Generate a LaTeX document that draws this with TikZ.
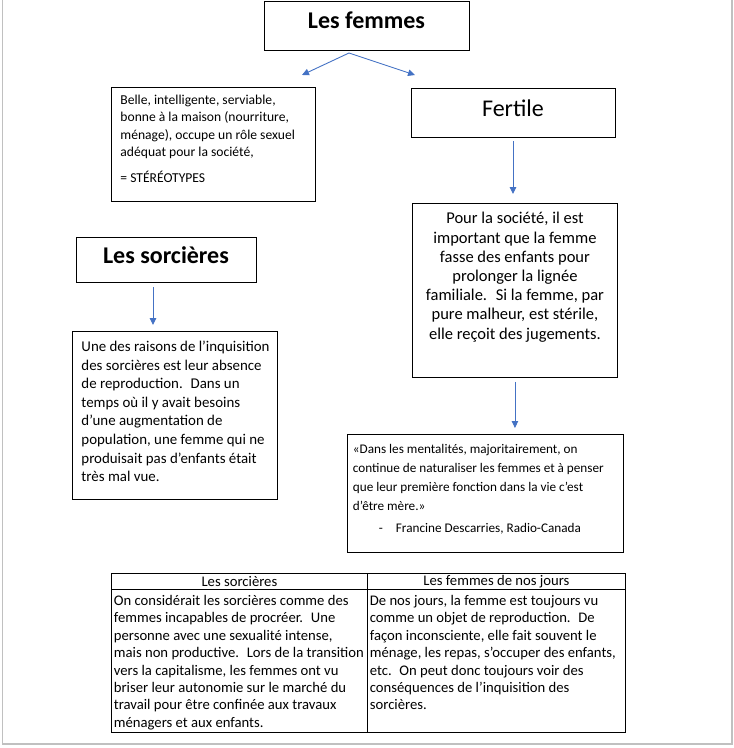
\documentclass[tikz,border=0pt]{standalone}
\usepackage{fontspec}
\setmainfont{Carlito}
\usepackage{tikz}
\usetikzlibrary{arrows.meta,positioning}
\definecolor{cArrow}{RGB}{68,114,196}
\definecolor{cEdge}{RGB}{192,192,192}
% #1 largeur, #2 hauteur, #3 retrait gauche, #4 texte
\newcommand{\boxpar}[4]{\begin{minipage}[c][#2][t]{#1}\raggedright\leftskip=#3\relax #4\end{minipage}}
\newcommand{\lift}[2]{\raisebox{#1}[\height][\depth]{#2}}
\tikzset{
  basebox/.style={rectangle,draw=black,line width=0.9pt,inner sep=0pt},
  titlenode/.style={basebox,font=\fontsize{24}{28}\selectfont\bfseries},
  fertnode/.style={basebox,font=\fontsize{24}{28}\selectfont},
  txtbox/.style={basebox,anchor=north west},
  cellnode/.style={basebox,anchor=north west,line width=0.8pt,
                   font=\fontsize{14.67}{17.4}\selectfont},
  arr/.style={-{Triangle[length=7pt,width=6.5pt]},line width=0.9pt,color=cArrow},
  pageedge/.style={draw=cEdge,line width=1.2pt}
}
\begin{document}
\begin{tikzpicture}[x=1pt,y=-1pt]
  \useasboundingbox (0,0) rectangle (734,748);
  \draw[pageedge] (2.5,0) -- (2.5,744) -- (732,744) -- (732,0);

  % titres
  \node[titlenode,minimum width=205pt,minimum height=49pt] (femmes) at (366.5,25.5) {\lift{5pt}{Les femmes}};
  \node[fertnode,minimum width=204pt,minimum height=49pt] (fertile) at (513,112.5) {\lift{4.5pt}{Fertile}};
  \node[titlenode,minimum width=180pt,minimum height=45pt] (sorc) at (166,259.5) {\lift{4.5pt}{Les sorcières}};

  % boites de texte
  \node[txtbox,inner xsep=4pt,inner ysep=7.5pt,font=\fontsize{13.6}{17.5}\selectfont] (belle) at (111,87)
      {\boxpar{196pt}{99pt}{5pt}{%
       Belle, intelligente, serviable,\\
       bonne à la maison (nourriture,\\
       ménage), occupe un rôle sexuel\\
       adéquat pour la société,\\[8.5pt]
       = STÉRÉOTYPES}};
  \node[txtbox,inner xsep=2pt,inner ysep=9pt,font=\fontsize{16.5}{19.2}\selectfont] (pour) at (412,203)
      {\boxpar{201pt}{156pt}{0pt}{\centering
       Pour la société, il est\\
       important que la femme\\
       fasse des enfants pour\\
       prolonger la lignée\\
       familiale.~ Si la femme, par\\
       pure malheur, est stérile,\\
       elle reçoit des jugements.}};
  \node[txtbox,inner xsep=2pt,inner ysep=10pt,font=\fontsize{13.2}{19}\selectfont] (quote) at (347,434)
      {\boxpar{272pt}{98pt}{3.5pt}{%
       «Dans les mentalités, majoritairement, on\\
       continue de naturaliser les femmes et à penser\\
       que leur première fonction dans la vie c’est\\
       d’être mère.»\\[3pt]
       \hspace*{26pt}\makebox[17pt][l]{-}Francine Descarries, Radio-Canada}};
  \node[txtbox,inner xsep=3pt,inner ysep=9.5pt,font=\fontsize{14.9}{18.6}\selectfont] (sorctxt) at (72,331)
      {\boxpar{199pt}{149pt}{6pt}{%
       Une des raisons de l’inquisition\\
       des sorcières est leur absence\\
       de reproduction.~ Dans un\\
       temps où il y avait besoins\\
       d’une augmentation de\\
       population, une femme qui ne\\
       produisait pas d’enfants était\\
       très mal vue.}};

  % tableau
  \node[cellnode,minimum width=256pt,minimum height=16pt] (hleft) at (111,573) {Les sorcières};
  \node[cellnode,minimum width=258pt,minimum height=16pt] (hright) at (367,573) {Les femmes de nos jours};
  \node[cellnode,inner xsep=0pt,inner ysep=6pt] (bleft) at (111,589)
      {\boxpar{256pt}{131pt}{2.5pt}{%
       On considérait les sorcières comme des\\
       femmes incapables de procréer.~ Une\\
       personne avec une sexualité intense,\\
       mais non productive.~ Lors de la transition\\
       vers la capitalisme, les femmes ont vu\\
       briser leur autonomie sur le marché du\\
       travail pour être confinée aux travaux\\
       ménagers et aux enfants.}};
  \node[cellnode,inner xsep=0pt,inner ysep=6pt] (bright) at (367,589)
      {\boxpar{258pt}{131pt}{2.5pt}{%
       De nos jours, la femme est toujours vu\\
       comme un objet de reproduction.~ De\\
       façon inconsciente, elle fait souvent le\\
       ménage, les repas, s’occuper des enfants,\\
       etc.~ On peut donc toujours voir des\\
       conséquences de l’inquisition des\\
       sorcières.}};

  % fleches
  \coordinate (fork) at (349,53);
  \coordinate (tipL) at (302,75);
  \coordinate (tipR) at (415,75);
  \draw[arr] (fork) -- (tipL);
  \draw[arr] (fork) -- (tipR);
  \draw[arr] ([yshift=-4pt]fertile.south) -- ([yshift=9pt]fertile.south |- pour.north);
  \draw[arr] ([yshift=-4pt]pour.south) -- ([yshift=6pt]pour.south |- quote.north);
  \draw[arr] ([xshift=-13pt,yshift=-5pt]sorc.south) -- ([xshift=-13pt,yshift=6pt]sorc.south |- sorctxt.north);
\end{tikzpicture}
\end{document}
